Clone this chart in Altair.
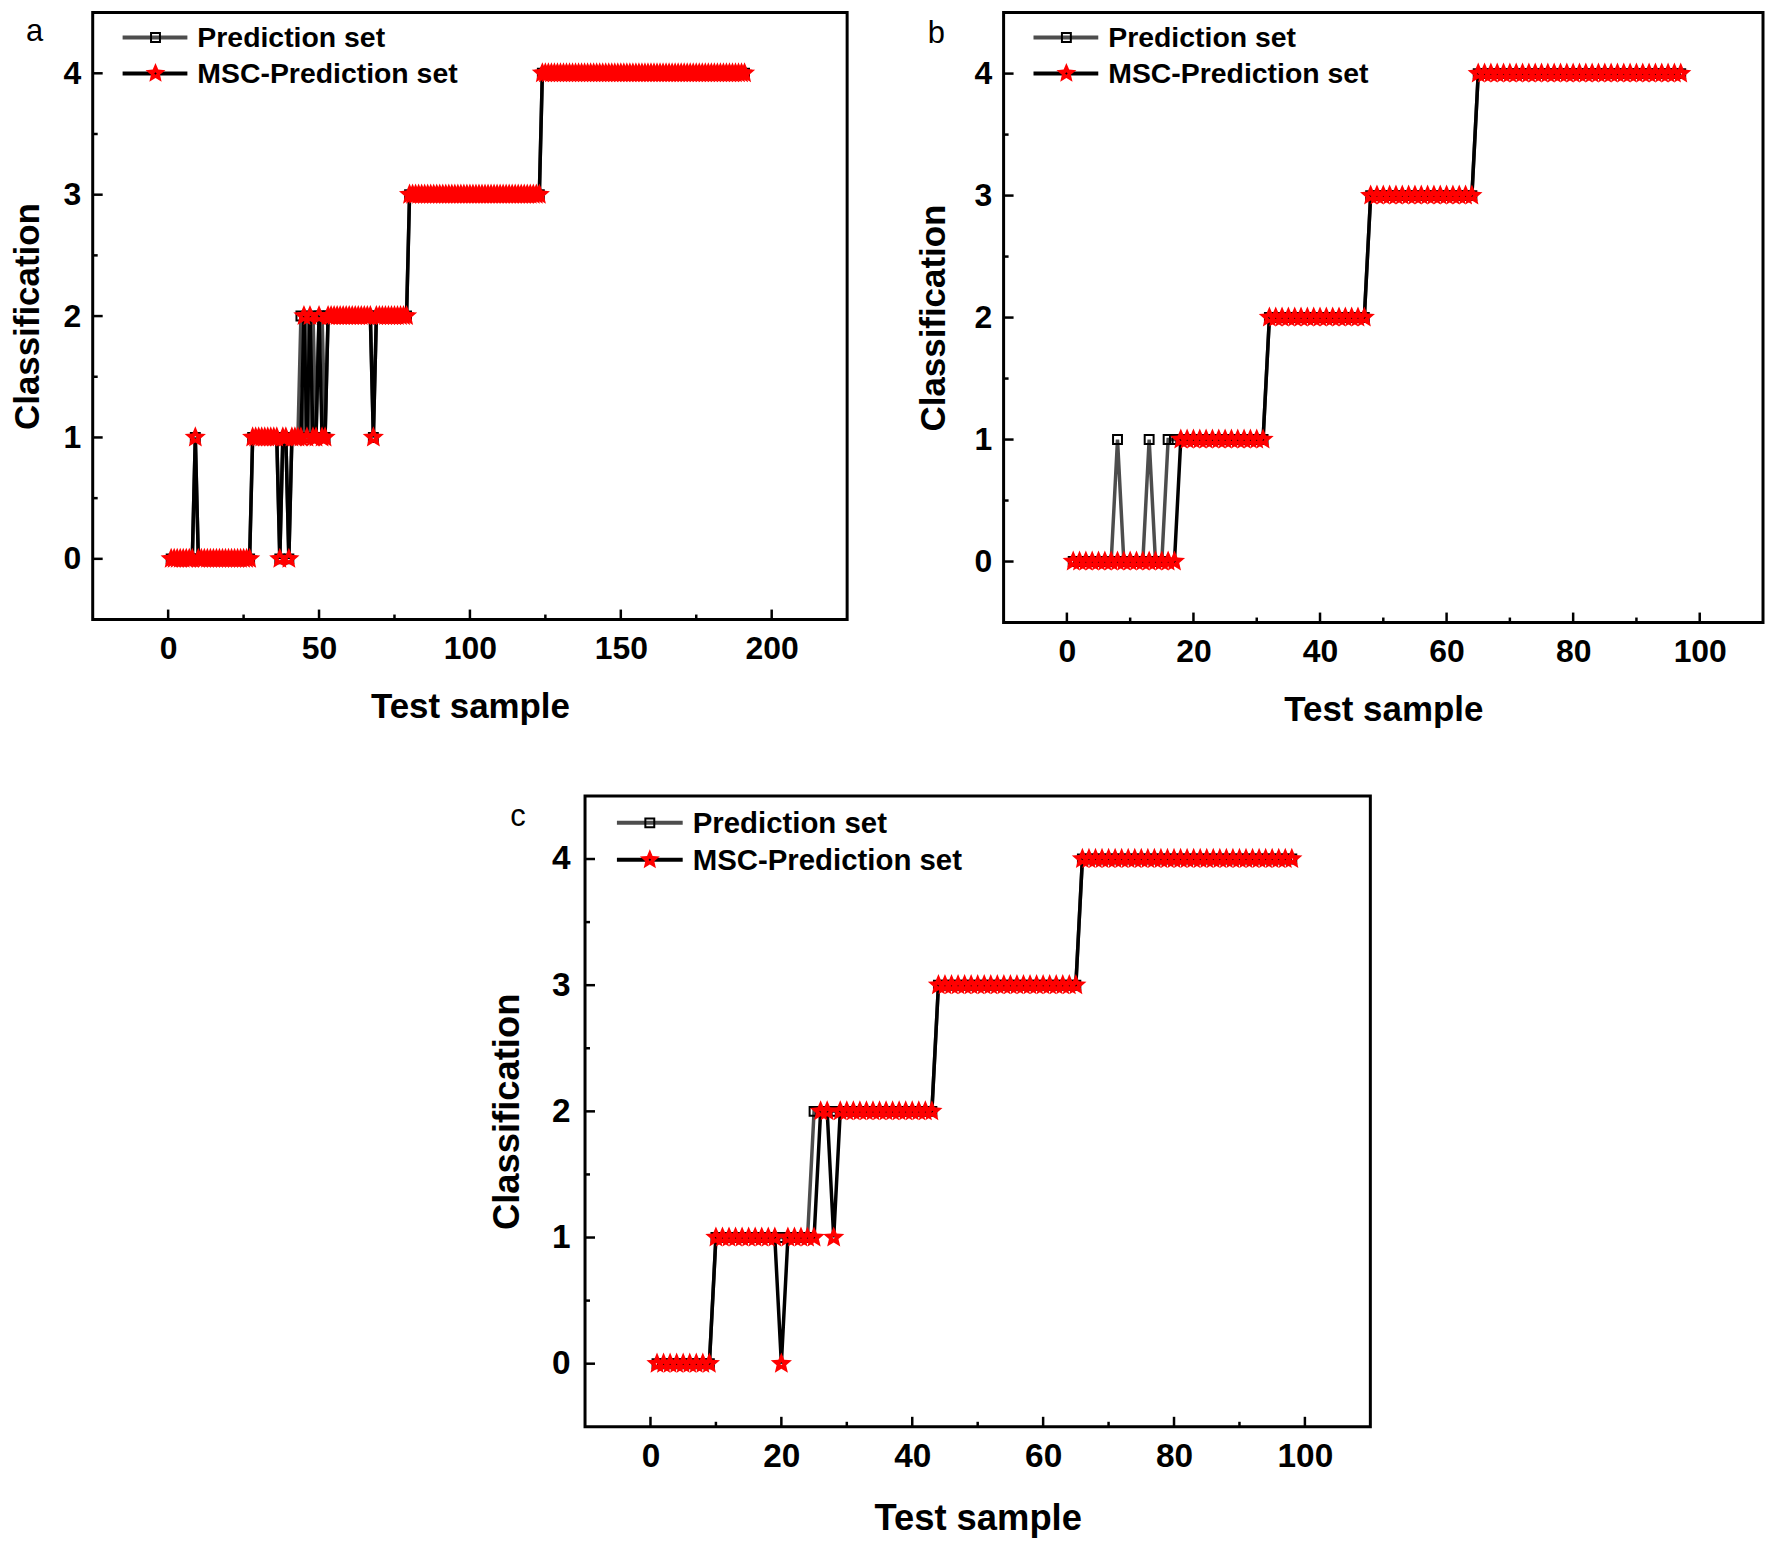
import math
import altair as alt
import pandas as pd

FONT = "Liberation Sans"
LETTER_FONT = "Liberation Sans"
GRAY = "#4d4d4d"
RED = "#ff0000"

legend_labels = ["Prediction set", "MSC-Prediction set"]
x_title = "Test sample"
y_title = "Classification"
y_ticks_major = [0, 1, 2, 3, 4]
y_ticks_minor = [0.5, 1.5, 2.5, 3.5]

# ---- panel a (runs of (class, count)) ----
a_x_ticks_major = [0, 50, 100, 150, 200]
a_x_ticks_minor = [25, 75, 125, 175]
a_pred_runs = [(0, 8), (1, 1), (0, 18), (1, 9), (0, 1), (1, 2), (0, 1), (1, 3),
               (2, 1), (1, 1), (2, 1), (1, 1), (2, 1), (1, 1), (2, 2), (1, 1), (2, 1),
               (2, 14), (1, 1), (2, 11), (3, 44), (4, 68)]
a_msc_runs = [(0, 8), (1, 1), (0, 18), (1, 9), (0, 1), (1, 2), (0, 1), (1, 3),
              (1, 1), (2, 1), (1, 1), (2, 1), (1, 2), (2, 1), (1, 2), (2, 1),
              (2, 14), (1, 1), (2, 11), (3, 44), (4, 68)]

# ---- panel b ----
b_x_ticks_major = [0, 20, 40, 60, 80, 100]
b_x_ticks_minor = [10, 30, 50, 70, 90]
b_pred_runs = [(0, 7), (1, 1), (0, 4), (1, 1), (0, 2), (1, 16), (2, 16), (3, 17), (4, 33)]
b_msc_runs = [(0, 17), (1, 14), (2, 16), (3, 17), (4, 33)]

# ---- panel c ----
c_x_ticks_major = [0, 20, 40, 60, 80, 100]
c_x_ticks_minor = [10, 30, 50, 70, 90]
c_pred_runs = [(0, 9), (1, 15), (2, 19), (3, 22), (4, 33)]
c_msc_runs = [(0, 9), (1, 10), (0, 1), (1, 5), (2, 2), (1, 1), (2, 15), (3, 22), (4, 33)]


def expand(runs):
    out = []
    for v, n in runs:
        out.extend([v] * n)
    return out


def star_path(r_in=0.45, hole=0.12):
    pts = []
    for k in range(10):
        ang = math.radians(-90 + 36 * k)
        r = 1.0 if k % 2 == 0 else r_in
        pts.append((r * math.cos(ang), r * math.sin(ang)))
    p = "M" + " L".join(f"{x:.4f},{y:.4f}" for x, y in pts) + " Z"
    p += f" M{hole},0 L0,{-hole} L{-hole},0 L0,{hole} Z"
    return p


STAR = star_path()


def panel(pred_runs, msc_runs, xdom, xmaj, xmin, w, h, letter, letter_dx, letter_dy,
          leg_y, leg_x, lab_fs, title_fs, leg_fs, ylab_pad, ytitle_pad, xtitle_pad):
    pred = expand(pred_runs)
    msc = expand(msc_runs)
    xs = list(range(1, len(pred) + 1))
    df = pd.DataFrame({"x": xs, "pred": pred, "msc": msc})
    xscale = alt.Scale(domain=xdom, nice=False, zero=False)
    yscale = alt.Scale(domain=[-0.5, 4.5], nice=False, zero=False)
    xax = alt.Axis(values=xmaj, ticks=False, tickSize=0, domain=False, grid=False,
                   format="d", labelFont=FONT, labelFontSize=lab_fs, labelFontWeight="bold",
                   labelColor="black", labelPadding=14, labelFlush=False,
                   titleFont=FONT, titleFontSize=title_fs, titleFontWeight="bold",
                   titleColor="black", titlePadding=xtitle_pad)
    yax = alt.Axis(values=y_ticks_major, ticks=False, tickSize=0, domain=False, grid=False,
                   format="d", labelFont=FONT, labelFontSize=lab_fs, labelFontWeight="bold",
                   labelColor="black", labelPadding=ylab_pad, labelFlush=False,
                   titleFont=FONT, titleFontSize=title_fs, titleFontWeight="bold",
                   titleColor="black", titlePadding=ytitle_pad)
    xenc = alt.X("x:Q", scale=xscale, axis=xax, title=x_title)

    def yenc(f):
        return alt.Y(f + ":Q", scale=yscale, axis=yax, title=y_title)

    base = alt.Chart(df)
    pred_line = base.mark_line(color=GRAY, strokeWidth=3.5).encode(x=xenc, y=yenc("pred"))
    pred_pts = base.mark_point(shape="square", filled=False, stroke="black", strokeWidth=2,
                               size=80, opacity=1).encode(x=xenc, y=yenc("pred"))
    msc_line = base.mark_line(color="black", strokeWidth=3.5).encode(x=xenc, y=yenc("msc"))
    msc_pts = base.mark_point(shape=STAR, filled=True, color=RED, size=500, opacity=1,
                              strokeWidth=0).encode(x=xenc, y=yenc("msc"))

    xt1 = alt.Chart(pd.DataFrame({"x": xmaj})).mark_rule(color="black", strokeWidth=2.5).encode(
        x=xenc, y=alt.value(h), y2=alt.value(h - 10))
    xt2 = alt.Chart(pd.DataFrame({"x": xmin})).mark_rule(color="black", strokeWidth=2.5).encode(
        x=xenc, y=alt.value(h), y2=alt.value(h - 5))
    yt1 = alt.Chart(pd.DataFrame({"y": y_ticks_major})).mark_rule(color="black", strokeWidth=2.5).encode(
        y=yenc("y"), x=alt.value(0), x2=alt.value(10))
    yt2 = alt.Chart(pd.DataFrame({"y": y_ticks_minor})).mark_rule(color="black", strokeWidth=2.5).encode(
        y=yenc("y"), x=alt.value(0), x2=alt.value(5))

    l1 = pd.DataFrame({"label": [legend_labels[0]]})
    l2 = pd.DataFrame({"label": [legend_labels[1]]})
    y1, y2 = leg_y
    lx0, lx1, lxm, ltx = leg_x
    leg = [
        alt.Chart(l1).mark_rule(color=GRAY, strokeWidth=4).encode(
            x=alt.value(lx0), x2=alt.value(lx1), y=alt.value(y1)),
        alt.Chart(l1).mark_point(shape="square", filled=False, stroke="black", strokeWidth=2,
                                 size=80, opacity=1).encode(x=alt.value(lxm), y=alt.value(y1)),
        alt.Chart(l1).mark_text(align="left", baseline="alphabetic", font=FONT, fontSize=leg_fs,
                                fontWeight="bold", color="black").encode(
            x=alt.value(ltx), y=alt.value(y1 + 10), text="label:N"),
        alt.Chart(l2).mark_rule(color="black", strokeWidth=4).encode(
            x=alt.value(lx0), x2=alt.value(lx1), y=alt.value(y2)),
        alt.Chart(l2).mark_point(shape=STAR, filled=True, color=RED, size=440, opacity=1,
                                 strokeWidth=0).encode(x=alt.value(lxm), y=alt.value(y2)),
        alt.Chart(l2).mark_text(align="left", baseline="alphabetic", font=FONT, fontSize=leg_fs,
                                fontWeight="bold", color="black").encode(
            x=alt.value(ltx), y=alt.value(y2 + 10), text="label:N"),
    ]
    lt = alt.Chart(pd.DataFrame({"t": [letter]})).mark_text(
        align="left", baseline="alphabetic", font=LETTER_FONT, fontSize=31, fontWeight="normal",
        color="black").encode(x=alt.value(letter_dx), y=alt.value(letter_dy), text="t:N")

    return alt.layer(pred_line, pred_pts, msc_line, msc_pts, xt1, xt2, yt1, yt2, *leg, lt).properties(
        width=w, height=h, view=alt.ViewBackground(stroke="black", strokeWidth=3))


pa = panel(a_pred_runs, a_msc_runs, [-25, 225], a_x_ticks_major, a_x_ticks_minor,
           757, 609, "a", -67, 28, (25, 61), (30, 95, 63, 105),
           32, 35, 28.5, 12, 18, 25)
pb = panel(b_pred_runs, b_msc_runs, [-10, 110], b_x_ticks_major, b_x_ticks_minor,
           762, 612, "b", -76, 30, (25, 61), (30, 95, 63, 105),
           32, 35, 28.5, 12, 23, 25)
pc = panel(c_pred_runs, c_msc_runs, [-10, 110], c_x_ticks_major, c_x_ticks_minor,
           788, 633, "c", -75, 30, (27, 64), (32, 98, 65, 108),
           33.5, 36.5, 29.5, 15, 25, 28)

spacer = alt.Chart(pd.DataFrame({"v": [0]})).mark_point(opacity=0).encode(
    x=alt.value(0), y=alt.value(0)).properties(width=396, height=10,
                                               view=alt.ViewBackground(strokeWidth=0))

top = alt.hconcat(pa, pb, spacing=65)
bottom = alt.hconcat(spacer, pc, spacing=0)
chart = alt.vconcat(top, bottom, spacing=64).properties(padding=0).configure_view(strokeWidth=0)

chart.save("out.html", embed_options={"renderer": "svg", "actions": False})
